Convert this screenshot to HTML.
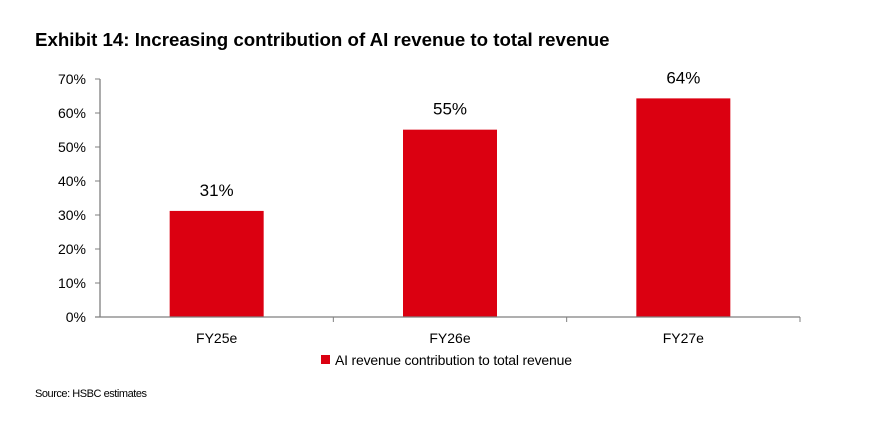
<!DOCTYPE html>
<html><head><meta charset="utf-8"><style>
body{margin:0;background:#fff;width:875px;height:438px;overflow:hidden;font-family:"Liberation Sans",Arial,sans-serif}
svg{position:absolute;left:0;top:0}
</style></head><body>
<svg id="c" width="875" height="438">
<text x="35" y="46" font-size="18.7" font-weight="bold" fill="#000">Exhibit 14: Increasing contribution of AI revenue to total revenue</text>
<text x="35" y="397" font-size="11" fill="#000" textLength="112">Source: HSBC estimates</text>
</svg>
<script>
const categories=["FY25e","FY26e","FY27e"];
const values=[31.2,55.1,64.3];
const valueLabels=["31%","55%","64%"];
const yTicks=[0,10,20,30,40,50,60,70];
const svg=document.getElementById('c');
const NS='http://www.w3.org/2000/svg';
const x0=100,x1=800,y0=317,yTop=79,yMax=70;
const y=v=>y0-(v/yMax)*(y0-yTop);
const bw=(x1-x0)/categories.length;
const cx=i=>x0+bw*(i+0.5);
function mk(t,a){const e=document.createElementNS(NS,t);for(const k in a)e.setAttribute(k,a[k]);svg.appendChild(e);return e;}
yTicks.forEach(v=>{
 const l=mk('line',{x1:x0-5,x2:x0,y1:y(v),y2:y(v),stroke:'#7f7f7f','stroke-width':1});
 
 
 const t=mk('text',{x:x0-14,y:y(v)+5,'text-anchor':'end','font-size':14,fill:'#000'});
 t.textContent=v+'%';
 
 
});
categories.forEach((c,i)=>{
 const r=mk('rect',{x:cx(i)-47,y:y(values[i]),width:94,height:y0-y(values[i]),fill:'#db0011'});
 
 
 const t=mk('text',{x:cx(i),y:y(values[i])-15,'text-anchor':'middle','font-size':17,fill:'#000'});
 t.textContent=valueLabels[i];
 
 
 const xl=mk('text',{x:cx(i),y:343,'text-anchor':'middle','font-size':14,fill:'#000'});
 xl.textContent=c;
 
 
 const tk=mk('line',{x1:x0+bw*(i+1),x2:x0+bw*(i+1),y1:y0,y2:y0+5,stroke:'#7f7f7f','stroke-width':1});
 
 
});
const ya=mk('line',{x1:x0,x2:x0,y1:yTop,y2:y0,stroke:'#7f7f7f','stroke-width':1.3});


const xa=mk('line',{x1:x0-5,x2:x1,y1:y0,y2:y0,stroke:'#7f7f7f','stroke-width':1.3});


const ls=mk('rect',{x:321,y:355,width:9,height:9,fill:'#db0011'});


const lt=mk('text',{x:335,y:365,'font-size':14,fill:'#000',textLength:237});
lt.textContent='AI revenue contribution to total revenue';


</script>
</body></html>
